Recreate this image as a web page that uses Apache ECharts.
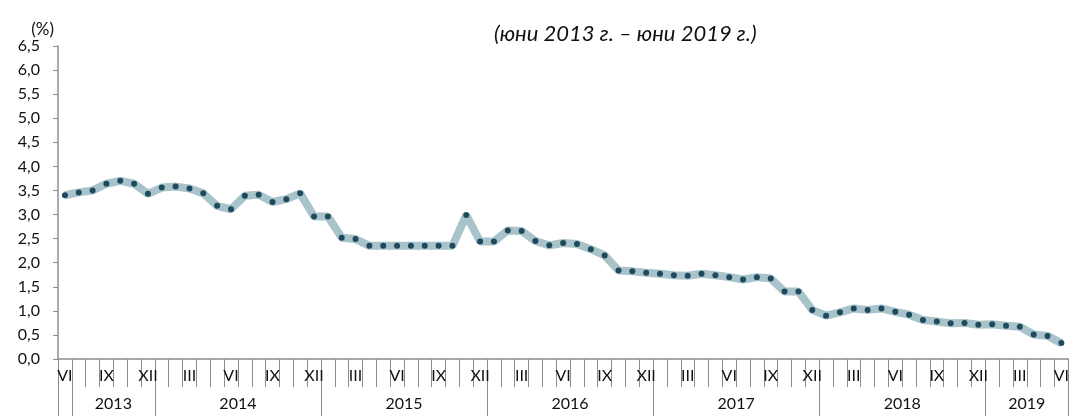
<!DOCTYPE html>
<html>
<head>
<meta charset="utf-8">
<script src="https://cdn.jsdelivr.net/npm/echarts@6/dist/echarts.min.js"></script>
<style>
  html, body { margin: 0; padding: 0; background: #ffffff; }
  #chart { width: 1072px; height: 416px; }
</style>
</head>
<body>
<div id="chart"></div>
<script>
// месечни стойности, юни 2013 – юни 2019 (%)
const values = [
  3.40, 3.46, 3.50, 3.64, 3.70, 3.64, 3.43,
  3.56, 3.58, 3.54, 3.44, 3.18, 3.11, 3.39, 3.41, 3.26, 3.32, 3.44, 2.96,
  2.96, 2.52, 2.49, 2.35, 2.35, 2.35, 2.35, 2.35, 2.35, 2.35, 2.99, 2.44,
  2.44, 2.67, 2.66, 2.45, 2.36, 2.41, 2.39, 2.28, 2.15, 1.84, 1.82, 1.79,
  1.77, 1.74, 1.73, 1.77, 1.74, 1.70, 1.65, 1.70, 1.67, 1.40, 1.40, 1.02,
  0.90, 0.97, 1.05, 1.02, 1.05, 0.98, 0.92, 0.81, 0.78, 0.74, 0.75, 0.71,
  0.72, 0.69, 0.67, 0.51, 0.48, 0.33
];
const romanMonths = ['I', 'II', 'III', 'IV', 'V', 'VI', 'VII', 'VIII', 'IX', 'X', 'XI', 'XII'];
const startMonth = 5; // юни
const years = ['2013', '2014', '2015', '2016', '2017', '2018', '2019'];
// граници на годините (в брой месеци от началото)
const yearBounds = [0, 1, 7, 19, 31, 43, 55, 67, 73];
const yearCenters = [4, 13, 25, 37, 49, 61, 70];

const months = values.map((v, i) => romanMonths[(startMonth + i) % 12]);
const boundCats = Array.from({ length: values.length + 1 }, (_, i) => String(i));

const axisGray = '#8c8c8c';
const textColor = '#111111';
const font = 'Lato, "Open Sans", sans-serif';

const chart = echarts.init(document.getElementById('chart'));
chart.setOption({
  animation: false,
  textStyle: { fontFamily: font },
  title: {
    text: '(юни 2013 г. – юни 2019 г.)',
    left: 489,
    top: 18,
    textStyle: { fontSize: 22, fontStyle: 'italic', fontWeight: 'normal', color: textColor, fontFamily: font }
  },
  grid: { left: 58, right: 1, top: 46, bottom: 57 },
  xAxis: [
    {
      type: 'category',
      data: months,
      boundaryGap: true,
      axisLine: { lineStyle: { color: axisGray, width: 1.5 } },
      axisTick: { show: true, interval: 0, length: 28, lineStyle: { color: axisGray } },
      axisLabel: { interval: 2, margin: 9, fontSize: 16, color: textColor }
    },
    {
      type: 'category',
      data: boundCats,
      boundaryGap: false,
      position: 'bottom',
      axisLine: { show: false },
      axisTick: {
        show: true,
        length: 57,
        interval: (idx) => yearBounds.includes(idx),
        lineStyle: { color: axisGray }
      },
      axisLabel: {
        margin: 37,
        fontSize: 16,
        color: textColor,
        interval: (idx) => yearCenters.includes(idx),
        formatter: (val, idx) => {
          const k = yearCenters.indexOf(idx);
          return k >= 0 ? years[k] : '';
        }
      }
    }
  ],
  yAxis: {
    type: 'value',
    min: 0,
    max: 6.5,
    interval: 0.5,
    name: '(%)',
    nameLocation: 'end',
    nameGap: 3,
    nameTextStyle: { fontSize: 17, color: textColor, align: 'right', padding: [0, 4, 0, 0] },
    axisLine: { show: true, lineStyle: { color: axisGray, width: 1.5 } },
    axisTick: { show: true, length: 5, lineStyle: { color: axisGray } },
    splitLine: { show: false },
    axisLabel: {
      margin: 18,
      fontSize: 16,
      color: textColor,
      formatter: (v) => v.toFixed(1).replace('.', ',')
    }
  },
  series: [
    {
      type: 'line',
      data: values,
      xAxisIndex: 0,
      symbol: 'circle',
      symbolSize: 6,
      lineStyle: { color: '#a9c3cb', width: 8 },
      itemStyle: { color: '#1e4a5c' }
    }
  ]
});
</script>
</body>
</html>
